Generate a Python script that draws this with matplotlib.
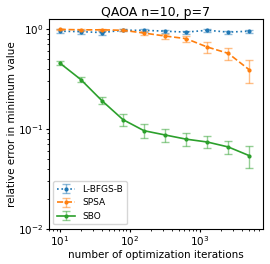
import matplotlib
matplotlib.use("Agg")
import matplotlib.pyplot as plt
import numpy as np

# iterations (doubling)
iterations = [10, 20, 40, 80, 160, 320, 640, 1280, 2560, 5120]

lbfgsb = [0.95, 0.94, 0.92, 0.97, 0.97, 0.95, 0.93, 0.97, 0.93, 0.95]
lbfgsb_err = [0.04, 0.04, 0.04, 0.02, 0.03, 0.03, 0.03, 0.03, 0.03, 0.03]

spsa = [0.99, 0.98, 0.98, 0.97, 0.91, 0.85, 0.80, 0.66, 0.57, 0.39]
spsa_err = [0.02, 0.02, 0.02, 0.02, 0.04, 0.05, 0.06, 0.08, 0.08, 0.10]

sbo = [0.457, 0.312, 0.192, 0.124, 0.096, 0.087, 0.079, 0.074, 0.066, 0.054]
sbo_err = [0.02, 0.018, 0.015, 0.017, 0.015, 0.013, 0.012, 0.010, 0.010, 0.013]

fig, ax = plt.subplots(figsize=(2.7, 2.64), dpi=100)

for y, err, ls, c, lab in [(lbfgsb, lbfgsb_err, ":", "tab:blue", "L-BFGS-B"),
                           (spsa, spsa_err, "--", "tab:orange", "SPSA"),
                           (sbo, sbo_err, "-", "tab:green", "SBO")]:
    eb = ax.errorbar(iterations, y, yerr=err, linestyle=ls, color=c, marker=".",
                     markersize=4, capsize=3, linewidth=1.2, elinewidth=1,
                     label=lab)
    for bar in eb[2]:
        bar.set_alpha(0.5)
    for cap in eb[1]:
        cap.set_alpha(0.5)

ax.set_xscale("log")
ax.set_yscale("log")
ax.set_xlim(7.0, 7950)
ax.set_ylim(0.01, 1.25)
ax.set_title("QAOA n=10, p=7", fontsize=9, pad=2)
ax.set_xlabel("number of optimization iterations", fontsize=7.5, labelpad=1)
ax.set_ylabel("relative error in minimum value", fontsize=7.5, labelpad=1)
ax.tick_params(labelsize=7.5, length=2.5, pad=1.5)
ax.tick_params(which="minor", length=1.5)
ax.legend(loc="lower left", fontsize=6.5)

fig.subplots_adjust(left=0.181, right=0.973, top=0.927, bottom=0.133)
fig.savefig("out.png")
